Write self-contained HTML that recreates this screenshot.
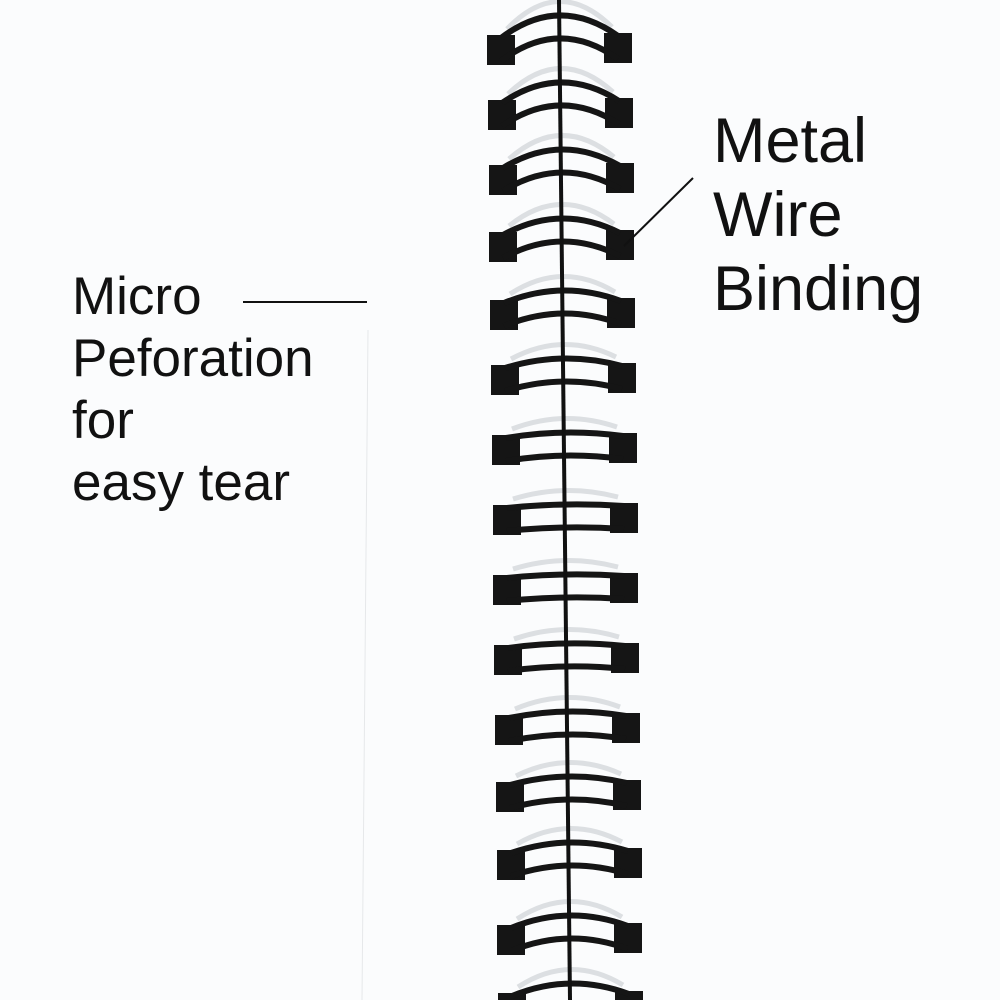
<!DOCTYPE html>
<html><head><style>
html,body{margin:0;padding:0;background:#fbfcfd;}
svg{display:block}
text{font-family:"Liberation Sans",sans-serif;fill:#111}
.b{fill:#151515}
.w{fill:none;stroke:#151515;stroke-width:6}
.g{fill:none;stroke:#dcdfe2;stroke-width:5}
</style></head><body>
<svg width="1000" height="1000" viewBox="0 0 1000 1000" xmlns="http://www.w3.org/2000/svg">
<rect width="1000" height="1000" fill="#fbfcfd"/>
<line x1="368" y1="330" x2="362" y2="1000" stroke="#e6e8ea" stroke-width="1"/>

<g transform="translate(487,35)"><path class="g" d="M20 -6 Q72 -60 125 -8"/><rect class="b" x="0" y="0" width="28" height="30"/><rect class="b" x="117" y="-2" width="28" height="30"/><path class="w" d="M14 3 Q72 -41 131 1"/><path class="w" d="M14 26 Q72 -18 131 24"/></g>
<g transform="translate(488,100)"><path class="g" d="M20 -6 Q72 -56 125 -8"/><rect class="b" x="0" y="0" width="28" height="30"/><rect class="b" x="117" y="-2" width="28" height="30"/><path class="w" d="M14 3 Q72 -37 131 1"/><path class="w" d="M14 26 Q72 -14 131 24"/></g>
<g transform="translate(489,165)"><path class="g" d="M20 -6 Q72 -52 125 -8"/><rect class="b" x="0" y="0" width="28" height="30"/><rect class="b" x="117" y="-2" width="28" height="30"/><path class="w" d="M14 3 Q72 -33 131 1"/><path class="w" d="M14 26 Q72 -10 131 24"/></g>
<g transform="translate(489,232)"><path class="g" d="M20 -6 Q72 -48 125 -8"/><rect class="b" x="0" y="0" width="28" height="30"/><rect class="b" x="117" y="-2" width="28" height="30"/><path class="w" d="M14 3 Q72 -29 131 1"/><path class="w" d="M14 26 Q72 -6 131 24"/></g>
<g transform="translate(490,300)"><path class="g" d="M20 -6 Q72 -40 125 -8"/><rect class="b" x="0" y="0" width="28" height="30"/><rect class="b" x="117" y="-2" width="28" height="30"/><path class="w" d="M14 3 Q72 -21 131 1"/><path class="w" d="M14 26 Q72 2 131 24"/></g>
<g transform="translate(491,365)"><path class="g" d="M20 -6 Q72 -34 125 -8"/><rect class="b" x="0" y="0" width="28" height="30"/><rect class="b" x="117" y="-2" width="28" height="30"/><path class="w" d="M14 3 Q72 -15 131 1"/><path class="w" d="M14 26 Q72 8 131 24"/></g>
<g transform="translate(492,435)"><path class="g" d="M20 -6 Q72 -26 125 -8"/><rect class="b" x="0" y="0" width="28" height="30"/><rect class="b" x="117" y="-2" width="28" height="30"/><path class="w" d="M14 3 Q72 -7 131 1"/><path class="w" d="M14 26 Q72 16 131 24"/></g>
<g transform="translate(493,505)"><path class="g" d="M20 -6 Q72 -22 125 -8"/><rect class="b" x="0" y="0" width="28" height="30"/><rect class="b" x="117" y="-2" width="28" height="30"/><path class="w" d="M14 3 Q72 -3 131 1"/><path class="w" d="M14 26 Q72 20 131 24"/></g>
<g transform="translate(493,575)"><path class="g" d="M20 -6 Q72 -22 125 -8"/><rect class="b" x="0" y="0" width="28" height="30"/><rect class="b" x="117" y="-2" width="28" height="30"/><path class="w" d="M14 3 Q72 -3 131 1"/><path class="w" d="M14 26 Q72 20 131 24"/></g>
<g transform="translate(494,645)"><path class="g" d="M20 -6 Q72 -24 125 -8"/><rect class="b" x="0" y="0" width="28" height="30"/><rect class="b" x="117" y="-2" width="28" height="30"/><path class="w" d="M14 3 Q72 -5 131 1"/><path class="w" d="M14 26 Q72 18 131 24"/></g>
<g transform="translate(495,715)"><path class="g" d="M20 -6 Q72 -28 125 -8"/><rect class="b" x="0" y="0" width="28" height="30"/><rect class="b" x="117" y="-2" width="28" height="30"/><path class="w" d="M14 3 Q72 -9 131 1"/><path class="w" d="M14 26 Q72 14 131 24"/></g>
<g transform="translate(496,782)"><path class="g" d="M20 -6 Q72 -32 125 -8"/><rect class="b" x="0" y="0" width="28" height="30"/><rect class="b" x="117" y="-2" width="28" height="30"/><path class="w" d="M14 3 Q72 -13 131 1"/><path class="w" d="M14 26 Q72 10 131 24"/></g>
<g transform="translate(497,850)"><path class="g" d="M20 -6 Q72 -36 125 -8"/><rect class="b" x="0" y="0" width="28" height="30"/><rect class="b" x="117" y="-2" width="28" height="30"/><path class="w" d="M14 3 Q72 -17 131 1"/><path class="w" d="M14 26 Q72 6 131 24"/></g>
<g transform="translate(497,925)"><path class="g" d="M20 -6 Q72 -40 125 -8"/><rect class="b" x="0" y="0" width="28" height="30"/><rect class="b" x="117" y="-2" width="28" height="30"/><path class="w" d="M14 3 Q72 -21 131 1"/><path class="w" d="M14 26 Q72 2 131 24"/></g>
<g transform="translate(498,993)"><path class="g" d="M20 -6 Q72 -40 125 -8"/><rect class="b" x="0" y="0" width="28" height="30"/><rect class="b" x="117" y="-2" width="28" height="30"/><path class="w" d="M14 3 Q72 -21 131 1"/></g>

<line x1="559" y1="0" x2="570" y2="1000" stroke="#111" stroke-width="4"/>
<text x="713" y="162" font-size="63">Metal</text>
<text x="713" y="236" font-size="63">Wire</text>
<text x="713" y="310" font-size="63">Binding</text>
<line x1="693" y1="178" x2="624" y2="246" stroke="#111" stroke-width="2"/>
<text x="72" y="314" font-size="53">Micro</text>
<text x="72" y="376" font-size="53">Peforation</text>
<text x="72" y="438" font-size="53">for</text>
<text x="72" y="500" font-size="53">easy tear</text>
<line x1="243" y1="302" x2="367" y2="302" stroke="#111" stroke-width="2"/>
</svg>
</body></html>
